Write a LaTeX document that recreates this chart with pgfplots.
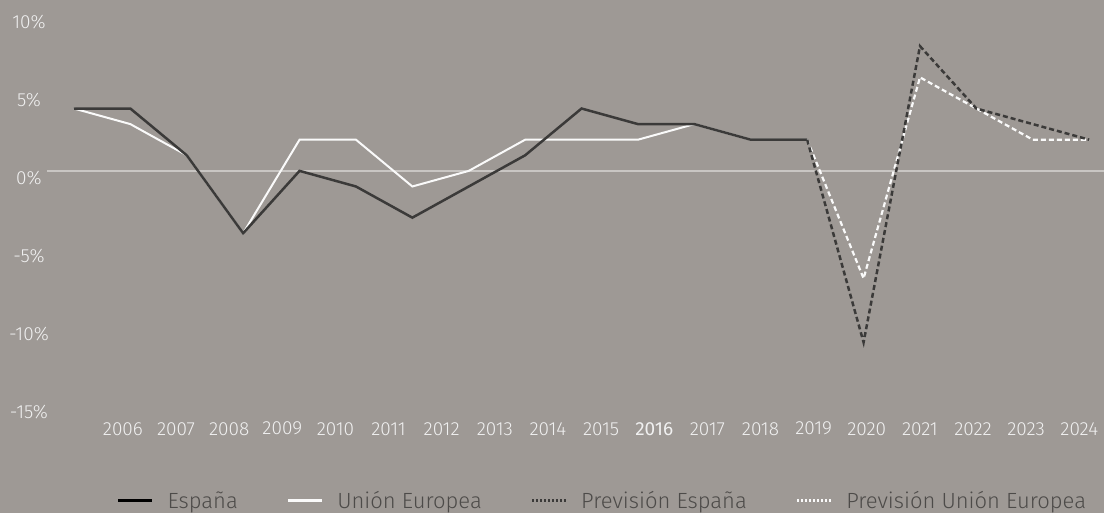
\documentclass[border=0pt]{standalone}
\usepackage{pgfplots}
\pgfplotsset{compat=1.18}
\usepackage{fontspec}
\setmainfont{Fira Sans Light}[BoldFont={Fira Sans}]
\definecolor{bg}{HTML}{9E9995}
\definecolor{darkline}{HTML}{3B3A39}
\definecolor{whiteline}{HTML}{FAFAFA}
\definecolor{zeroline}{HTML}{C9C6C3}
\definecolor{ticktext}{HTML}{F0F0F0}
\definecolor{legtext}{HTML}{4D4B49}
\begin{document}
\begin{tikzpicture}
\begin{axis}[
  scale only axis, width=1105pt, height=513pt,
  xmin=-1.311, xmax=18.267, ymin=-21.92, ymax=10.96,
  axis background/.style={fill=bg},
  axis line style={draw=none}, tick style={draw=none},
  clip=false,
  xtick={0.868,1.810,2.752,3.694,4.636,5.578,6.520,7.462,8.404,9.346,10.288,11.230,12.172,13.114,14.056,14.998,15.940,16.882,17.824},
  xticklabels={2006,2007,2008,2009,2010,2011,2012,2013,2014,2015,\textbf{2016},2017,2018,2019,2020,2021,2022,2023,2024},
  ytick={-15,-10,-5,0,5,10},
  yticklabels={-15\%,-10\%,-5\%,0\%,5\%,10\%},
  yticklabel style={anchor=center, xshift=29pt, yshift=-7pt, text=ticktext, font=\fontsize{19}{21}\selectfont},
  xticklabel style={anchor=center, yshift=84pt, text=ticktext, font=\fontsize{19}{21}\selectfont},
  legend columns=4,
  legend style={draw=none, fill=none, at={(0.5457,0.0235)}, anchor=center,
    text=legtext, font=\fontsize{22}{24}\selectfont,
    /tikz/every odd column/.append style={column sep=12pt},
    /tikz/every even column/.append style={column sep=47pt}},
  legend image code/.code={\draw[#1] (0pt,0pt) -- (34pt,0pt);},
]
\addplot[zeroline, line width=1.5pt, forget plot] coordinates {(-0.478,0) (18.267,0)};
% Union Europea
\addplot[whiteline, line width=2pt, forget plot] coordinates {
(0,4) (1,3) (2,1) (3,-4) (4,2) (5,2) (6,-1) (7,0) (8,2) (9,2) (10,2) (11,3) (12,2) (13,2)};
% Espana
\addplot[darkline, line width=2.5pt, forget plot] coordinates {
(0,4) (1,4) (2,1) (3,-4) (4,0) (5,-1) (6,-3) (7,-1) (8,1) (9,4) (10,3) (11,3) (12,2) (13,2)};
% Prevision UE
\addplot[whiteline, line width=2.2pt, dash pattern=on 5pt off 3pt, forget plot] coordinates {
(13,2) (14,-6.9) (15,6) (16,4) (17,2) (18,2)};
% Prevision Espana
\addplot[darkline, line width=2.5pt, dash pattern=on 5pt off 3pt, forget plot] coordinates {
(13,2) (14,-11) (15,8) (16,4) (17,3) (18,2)};
\addlegendimage{black, line width=2.5pt}
\addlegendentry{España}
\addlegendimage{whiteline, line width=2.5pt}
\addlegendentry{Unión Europea}
\addlegendimage{darkline, line width=2.5pt, dash pattern=on 2pt off 2pt}
\addlegendentry{Previsión España}
\addlegendimage{whiteline, line width=2.5pt, dash pattern=on 2pt off 2pt}
\addlegendentry{Previsión Unión Europea}
\end{axis}
\end{tikzpicture}
\end{document}
